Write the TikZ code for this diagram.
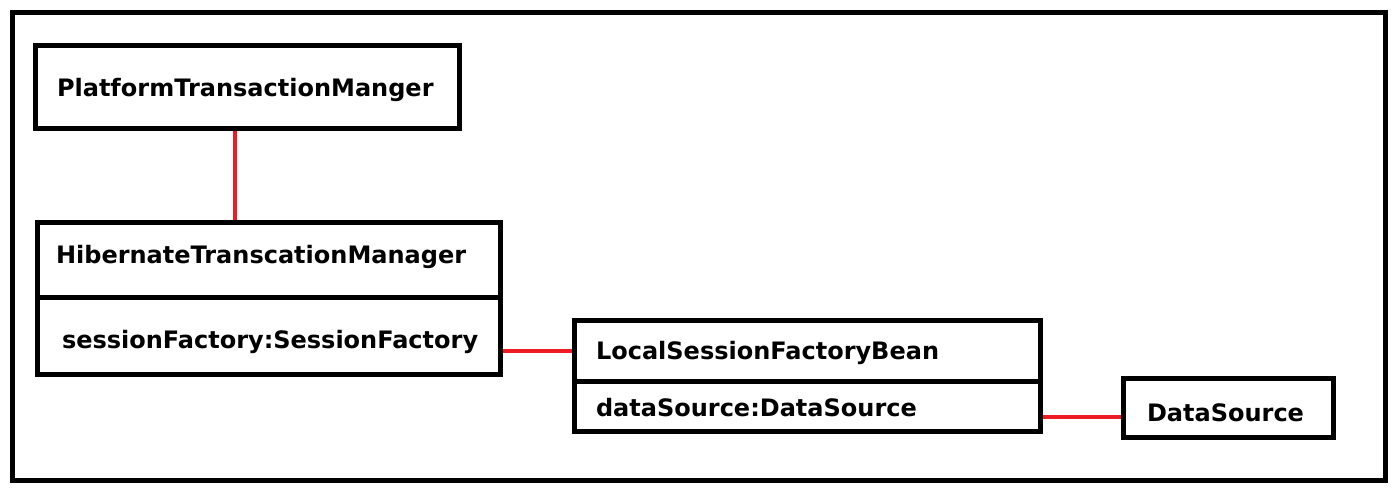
\documentclass[tikz,border=0pt]{standalone}
\usepackage{fontspec}
\setmainfont{DejaVu Sans}
\usetikzlibrary{backgrounds}
\definecolor{linkred}{RGB}{237,28,36}
\begin{document}
\begin{tikzpicture}[x=1bp,y=-1bp,
  box/.style={draw=black,line width=5bp,inner sep=0pt,outer sep=0pt},
  lbl/.style={anchor=base west,inner sep=0pt,outer sep=0pt,
    font=\fontsize{24bp}{28bp}\selectfont\bfseries},
  conn/.style={draw=linkred,line width=4bp}]
\useasboundingbox (0,0) rectangle (1395,489);
% outer frame
\node[box,minimum width=1372.5bp,minimum height=467.5bp] (frame) at (698.75,246.25) {};
% boxes
\node[box,minimum width=424bp,minimum height=83bp] (ptm) at (247.5,87) {};
\node[box,minimum width=462.5bp,minimum height=74.5bp] (htmh) at (268.75,259.75) {};
\node[box,minimum width=462.5bp,minimum height=77bp] (htma) at (268.75,335.5) {};
\node[box,minimum width=466bp,minimum height=61bp] (lsfbh) at (807,350.5) {};
\node[box,minimum width=466bp,minimum height=50bp] (lsfba) at (807,406) {};
\node[box,minimum width=210bp,minimum height=59bp] (ds) at (1228,407.5) {};
% texts
\node[lbl] (t1) at (57,97) {PlatformTransactionManger};
\node[lbl] (t2) at (56,264) {HibernateTranscationManager};
\node[lbl] (t3) at (62,348) {sessionFactory:SessionFactory};
\node[lbl] (t4) at (596,359) {LocalSessionFactoryBean};
\node[lbl] (t5) at (596,416) {dataSource:DataSource};
\node[lbl] (t6) at (1147,421) {DataSource};
% connectors
\coordinate (p1) at ([xshift=-12.5bp]ptm.south);
\coordinate (d1) at ([yshift=-9.5bp]ds.west);
\begin{scope}[on background layer]
\fill[white] (0,0) rectangle (1395,489);
\draw[conn] (p1) -- (p1 |- htmh.north);
\draw[conn] (lsfbh.west) -- (lsfbh.west -| htma.east);
\draw[conn] (d1) -- (d1 -| lsfba.east);
\end{scope}
\end{tikzpicture}
\end{document}
